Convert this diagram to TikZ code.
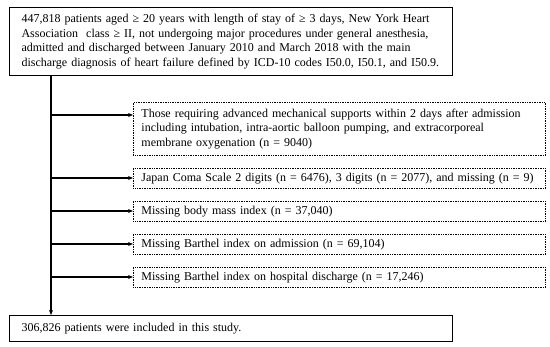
\documentclass[tikz,border=0pt]{standalone}
\usepackage{fontspec}
\setmainfont{Liberation Serif}
\usetikzlibrary{arrows.meta}
\begin{document}
\begin{tikzpicture}[x=1pt,y=-1pt,
  txt/.style={font=\fontsize{12}{14.5}\selectfont, align=left, inner ysep=0pt},
  solidbox/.style={draw, line width=1.1pt, minimum height=#1, anchor=north west},
  dotbox/.style={draw, line width=0.9pt, dash pattern=on 0.8pt off 0.9pt, minimum height=#1, anchor=north west},
  arr/.style={line width=1.4pt, -{Stealth[length=5pt,width=4pt]}}
]
\useasboundingbox (0,0) rectangle (550,347);
\node[solidbox=68pt, txt, text width=419pt, inner xsep=12pt] (top) at (9,7)
 {\mbox{447,818 patients aged ≥ 20 years with length of stay of ≥ 3 days, New York Heart}\\
  \mbox{Association\ \ class ≥ II, not undergoing major procedures under general anesthesia,}\\
  \mbox{admitted and discharged between January 2010 and March 2018 with the main}\\
  \mbox{discharge diagnosis of heart failure defined by ICD-10 codes I50.0, I50.1, and I50.9.}};
\node[dotbox=53pt, txt, text width=396pt, inner xsep=8pt] (b1) at (133,102)
 {\mbox{Those requiring advanced mechanical supports within 2 days after admission}\\
  \mbox{including intubation, intra-aortic balloon pumping, and extracorporeal}\\
  \mbox{membrane oxygenation (n = 9040)}};
\node[dotbox=20pt, txt, text width=396pt, inner xsep=8pt] (b2) at (133,168)
 {\mbox{Japan Coma Scale 2 digits (n = 6476), 3 digits (n = 2077), and missing (n = 9)}};
\node[dotbox=20pt, txt, text width=396pt, inner xsep=8pt] (b3) at (133,201)
 {\mbox{Missing body mass index (n = 37,040)}};
\node[dotbox=20pt, txt, text width=396pt, inner xsep=8pt] (b4) at (133,234)
 {\mbox{Missing Barthel index on admission (n = 69,104)}};
\node[dotbox=20pt, txt, text width=396pt, inner xsep=8pt] (b5) at (133,267)
 {\mbox{Missing Barthel index on hospital discharge (n = 17,246)}};
\node[solidbox=26pt, txt, text width=419pt, inner xsep=12pt] (bot) at (9,315)
 {\mbox{306,826 patients were included in this study.}};
\coordinate (trunk) at (51,0);
\draw[arr] (top.south -| trunk) -- (bot.north -| trunk);
\coordinate (a1) at (51,115);
\coordinate (a2) at (51,178);
\coordinate (a3) at (51,211);
\coordinate (a4) at (51,244);
\coordinate (a5) at (51,277);
\draw[arr] (a1) -- (a1 -| b1.west);
\draw[arr] (a2) -- (a2 -| b2.west);
\draw[arr] (a3) -- (a3 -| b3.west);
\draw[arr] (a4) -- (a4 -| b4.west);
\draw[arr] (a5) -- (a5 -| b5.west);
\end{tikzpicture}
\end{document}
